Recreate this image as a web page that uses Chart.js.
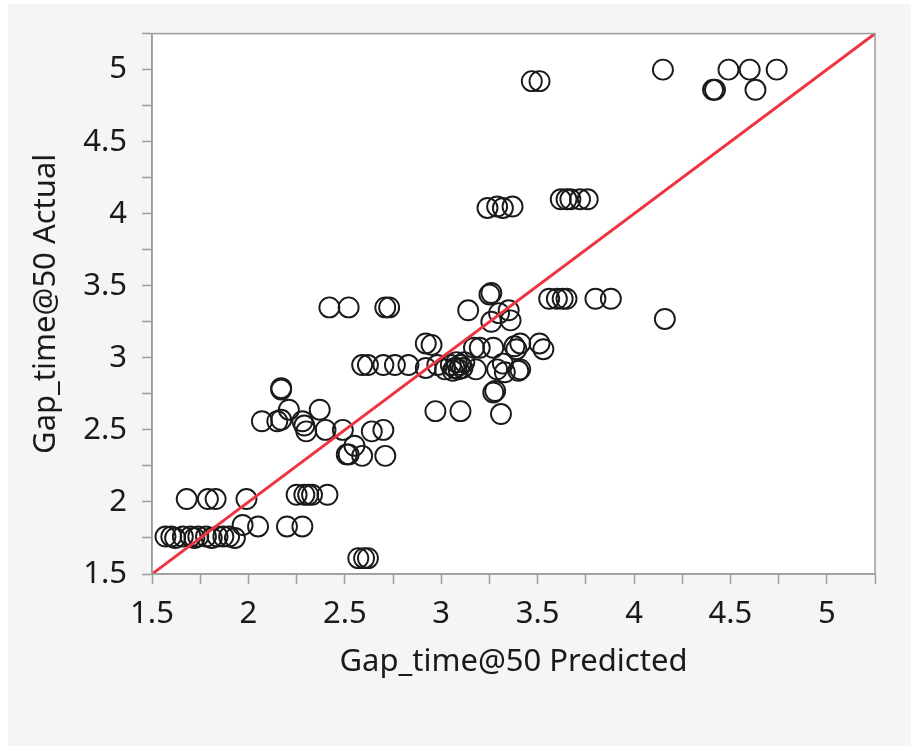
<!DOCTYPE html>
<html>
<head>
<meta charset="utf-8">
<title>Gap_time@50 Actual vs Predicted</title>
<script src="https://cdn.jsdelivr.net/npm/chart.js@4.4.1/dist/chart.umd.min.js"></script>
<style>
  html, body { margin: 0; padding: 0; background: #ffffff; }
  #chart { display: block; }
</style>
</head>
<body>
<canvas id="chart" width="911" height="752"></canvas>
<script>
// Data: predicted vs actual
const predicted = [
    1.57, 1.60, 1.62, 1.66, 1.70, 1.72, 1.74, 1.78, 1.81, 1.84, 1.87, 1.90, 1.93,
    1.97, 2.05, 2.20, 2.28,
    1.68, 1.79, 1.83, 1.99,
    2.25, 2.29, 2.31, 2.33, 2.41,
    2.57, 2.60, 2.62,
    2.17, 2.17, 2.21, 2.07, 2.15, 2.17, 2.28, 2.29, 2.30, 2.37, 2.40, 2.49,
    2.51, 2.52, 2.55, 2.59, 2.64, 2.70, 2.71,
    2.42, 2.52, 2.71, 2.73,
    2.59, 2.62, 2.70, 2.76, 2.83, 2.92, 2.98, 3.02,
    2.92, 2.95,
    3.05, 3.07, 3.08, 3.09, 3.10, 3.11, 3.06, 3.12,
    3.14, 3.17, 3.20, 3.27, 3.18,
    3.25, 3.26, 3.30, 3.35, 3.26, 3.36,
    3.29, 3.33, 3.40, 3.41,
    3.38, 3.41, 3.39, 3.51, 3.53,
    3.27, 3.28, 3.31, 2.97, 3.10, 3.32,
    3.24, 3.29, 3.32, 3.37,
    3.62, 3.65, 3.67, 3.72, 3.76,
    3.56, 3.60, 3.63, 3.65, 3.80, 3.88,
    4.16,
    3.47, 3.51,
    4.15, 4.49, 4.60, 4.74, 4.41, 4.42, 4.63
];
const actual = [
    1.76, 1.76, 1.75, 1.76, 1.76, 1.75, 1.76, 1.76, 1.75, 1.76, 1.76, 1.76, 1.75,
    1.84, 1.83, 1.83, 1.83,
    2.02, 2.02, 2.02, 2.02,
    2.05, 2.05, 2.05, 2.05, 2.05,
    1.61, 1.61, 1.61,
    2.78, 2.79, 2.64, 2.56, 2.56, 2.57, 2.56, 2.53, 2.49, 2.64, 2.50, 2.50,
    2.33, 2.33, 2.39, 2.32, 2.49, 2.50, 2.32,
    3.35, 3.35, 3.35, 3.35,
    2.95, 2.95, 2.95, 2.95, 2.95, 2.93, 2.95, 2.92,
    3.10, 3.09,
    2.95, 2.93, 2.97, 2.92, 2.95, 2.93, 2.91, 2.97,
    3.33, 3.07, 3.07, 3.07, 2.92,
    3.44, 3.45, 3.31, 3.33, 3.25, 3.26,
    2.92, 2.90, 2.91, 2.92,
    3.08, 3.10, 3.06, 3.10, 3.06,
    2.76, 2.77, 2.61, 2.63, 2.63, 2.96,
    4.04, 4.05, 4.04, 4.05,
    4.10, 4.10, 4.10, 4.10, 4.10,
    3.41, 3.41, 3.41, 3.41, 3.41, 3.41,
    3.27,
    4.92, 4.92,
    5.00, 5.00, 5.00, 5.00, 4.86, 4.86, 4.86
];

// Axis range and labelled ticks (minor ticks every 0.25 have no label)
const axisMin = 1.5;
const axisMax = 5.25;
const tickLabels = [1.5, 2, 2.5, 3, 3.5, 4, 4.5, 5];

// Reference line y = x
const fitLine = [axisMin, axisMax];

const textColor = '#1a1a1a';
const axisColor = '#9c9c9c';
const fontFamily = '"Noto Sans", "Open Sans", sans-serif';

const points = predicted.map((p, i) => ({ x: p, y: actual[i] }));
const linePoints = fitLine.map(v => ({ x: v, y: v }));

function tickCallback(value) {
    const hit = tickLabels.find(t => Math.abs(t - value) < 1e-6);
    return hit === undefined ? '' : String(hit);
}

// Background: grey panel, white plot area with grey frame
const panelPlugin = {
    id: 'panel',
    beforeDraw(chart) {
        const ctx = chart.ctx;
        const area = chart.chartArea;
        ctx.save();
        ctx.fillStyle = '#ffffff';
        ctx.fillRect(0, 0, chart.width, chart.height);
        ctx.fillStyle = '#f5f5f5';
        ctx.fillRect(8, 4, chart.width - 8, 742);
        ctx.fillStyle = '#ffffff';
        ctx.fillRect(area.left, area.top, area.right - area.left, area.bottom - area.top);
        ctx.restore();
    },
    afterDraw(chart) {
        const ctx = chart.ctx;
        const area = chart.chartArea;
        ctx.save();
        ctx.strokeStyle = axisColor;
        ctx.lineWidth = 1.5;
        ctx.strokeRect(area.left, area.top, area.right - area.left, area.bottom - area.top);
        ctx.restore();
    }
};

const axisCommon = {
    type: 'linear',
    min: axisMin,
    max: axisMax,
    grid: {
        drawOnChartArea: false,
        drawTicks: true,
        tickLength: 10,
        tickColor: axisColor,
        tickWidth: 1.5
    },
    border: { color: axisColor, width: 1.5 }
};

const ctx = document.getElementById('chart').getContext('2d');
window.avpChart = new Chart(ctx, {
    data: {
        datasets: [
            {
                type: 'line',
                label: 'Fit',
                data: linePoints,
                borderColor: 'rgb(238, 52, 64)',
                borderWidth: 3,
                pointRadius: 0,
                fill: false,
                order: 0
            },
            {
                type: 'scatter',
                label: 'Gap_time@50',
                data: points,
                pointStyle: 'circle',
                pointRadius: 10,
                pointBorderWidth: 1.9,
                pointBackgroundColor: 'rgba(0,0,0,0)',
                pointBorderColor: '#1a1a1a',
                order: 1
            }
        ]
    },
    options: {
        responsive: false,
        animation: false,
        devicePixelRatio: 1,
        layout: { padding: { left: 0, top: 30, right: 36, bottom: 0 } },
        plugins: {
            legend: { display: false },
            tooltip: { enabled: false }
        },
        scales: {
            x: Object.assign({}, axisCommon, {
                position: 'bottom',
                afterFit(scale) { scale.height = 178; },
                ticks: {
                    stepSize: 0.25,
                    autoSkip: false,
                    maxRotation: 0,
                    padding: 12,
                    color: textColor,
                    font: { family: fontFamily, size: 31 },
                    callback: tickCallback
                },
                title: {
                    display: true,
                    text: 'Gap_time@50 Predicted',
                    color: textColor,
                    font: { family: fontFamily, size: 31 },
                    padding: { top: 0, bottom: 71 }
                }
            }),
            y: Object.assign({}, axisCommon, {
                position: 'left',
                afterFit(scale) { scale.width = 152; },
                ticks: {
                    stepSize: 0.25,
                    autoSkip: false,
                    padding: 15,
                    color: textColor,
                    font: { family: fontFamily, size: 31 },
                    callback: tickCallback
                },
                title: {
                    display: true,
                    text: 'Gap_time@50 Actual',
                    color: textColor,
                    font: { family: fontFamily, size: 31 },
                    padding: { top: 28, bottom: 0 }
                }
            })
        }
    },
    plugins: [panelPlugin]
});
</script>
</body>
</html>
